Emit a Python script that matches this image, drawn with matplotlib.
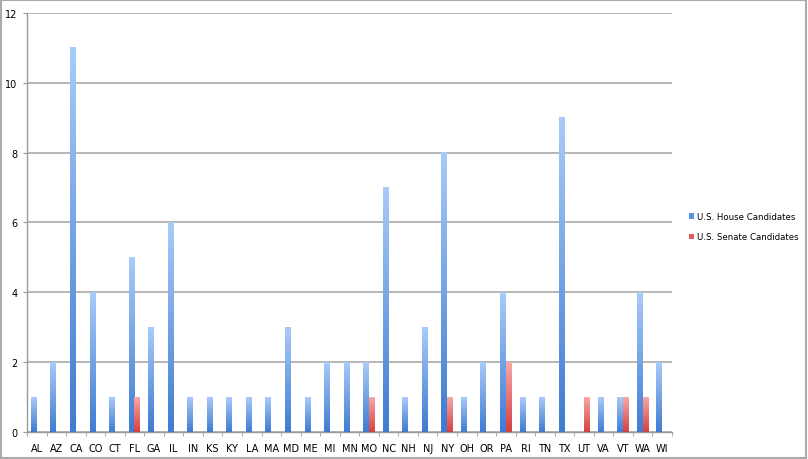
import numpy as np
import matplotlib
matplotlib.use("Agg")
import matplotlib.pyplot as plt
from matplotlib.colors import LinearSegmentedColormap
from matplotlib.patches import Patch, Rectangle

states = ['AL', 'AZ', 'CA', 'CO', 'CT', 'FL', 'GA', 'IL', 'IN', 'KS', 'KY', 'LA', 'MA',
          'MD', 'ME', 'MI', 'MN', 'MO', 'NC', 'NH', 'NJ', 'NY', 'OH', 'OR', 'PA', 'RI',
          'TN', 'TX', 'UT', 'VA', 'VT', 'WA', 'WI']
house = [1, 2, 11, 4, 1, 5, 3, 6, 1, 1, 1, 1, 1,
         3, 1, 2, 2, 2, 7, 1, 3, 8, 1, 2, 4, 1,
         1, 9, 0, 1, 1, 4, 2]
senate = [0, 0, 0, 0, 0, 1, 0, 0, 0, 0, 0, 0, 0,
          0, 0, 0, 0, 1, 0, 0, 0, 1, 0, 0, 2, 0,
          0, 0, 1, 0, 1, 1, 0]
yticks = [0, 2, 4, 6, 8, 10, 12]

house_cmap = LinearSegmentedColormap.from_list('house', ['#3f7bd3', '#a9cbf8'])
senate_cmap = LinearSegmentedColormap.from_list('senate', ['#d6403f', '#f6a9a8'])
grad = np.linspace(0, 1, 256).reshape(-1, 1)

fig = plt.figure(figsize=(8.08, 4.6), dpi=100)
ax = fig.add_axes([0.0334, 0.0587, 0.7983, 0.911])

bw = 0.3
x = np.arange(len(states))


def grad_bar(x0, h, cmap):
    if h <= 0:
        return
    ax.imshow(grad, extent=[x0, x0 + bw, 0, h], origin='lower', aspect='auto',
              cmap=cmap, zorder=3, interpolation='bilinear')


for i in range(len(states)):
    grad_bar(x[i] - bw, house[i], house_cmap)
    grad_bar(x[i], senate[i], senate_cmap)

ax.set_xlim(-0.5, len(states) - 0.5)
ax.set_ylim(0, 12)
ax.set_yticks(yticks)
ax.set_yticklabels([str(v) for v in yticks], fontsize=7)
ax.set_xticks(x)
ax.set_xticklabels(states, fontsize=7)
ax.set_xticks(np.arange(-0.5, len(states), 1), minor=True)
ax.tick_params(axis='x', which='major', length=0, pad=8)
ax.tick_params(axis='x', which='minor', length=3, color='#999999', direction='out')
ax.tick_params(axis='y', length=3, color='#999999', pad=4)

ax.grid(axis='y', color='#aaaaaa', linewidth=1.2, zorder=0)
ax.set_axisbelow(True)
for side in ['top', 'right']:
    ax.spines[side].set_visible(False)
for side in ['left', 'bottom']:
    ax.spines[side].set_color('#999999')
    ax.spines[side].set_linewidth(1.0)

handles = [Patch(facecolor='#5b92df', label='U.S. House Candidates'),
           Patch(facecolor='#e05a5a', label='U.S. Senate Candidates')]
fig.legend(handles=handles, loc='center left', bbox_to_anchor=(0.843, 0.505),
           frameon=False, fontsize=6.2, handlelength=0.6, handleheight=0.6,
           handletextpad=0.3, labelspacing=1.3)

fig.patches.append(Rectangle((0.001, 0.002), 0.997, 0.995, transform=fig.transFigure,
                             fill=False, edgecolor='#aaaaaa', linewidth=1.5))

fig.savefig('out.png', dpi=100)
